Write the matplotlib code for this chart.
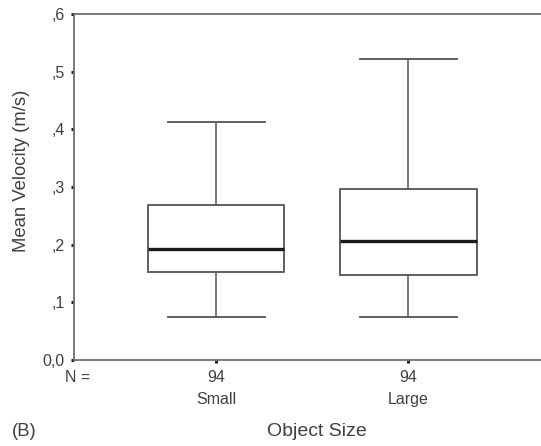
import matplotlib

matplotlib.use("Agg")
import matplotlib.pyplot as plt

plt.rcParams["font.family"] = ["Liberation Sans", "DejaVu Sans"]

groups = ["Small", "Large"]
counts = [94, 94]
whislo = [0.075, 0.075]
q1 = [0.153, 0.147]
med = [0.193, 0.206]
q3 = [0.269, 0.297]
whishi = [0.413, 0.522]

yticks = [0.0, 0.1, 0.2, 0.3, 0.4, 0.5, 0.6]
ytick_labels = ["0,0", ",1", ",2", ",3", ",4", ",5", ",6"]

text_col = "#404040"
line_col = "#606060"

fig = plt.figure(figsize=(5.41, 4.46), dpi=100)
ax = fig.add_axes([74 / 541, 1 - 360 / 446, 1 - 74 / 541, 346 / 446])

stats = []
for i, g in enumerate(groups):
    stats.append(dict(label=g, whislo=whislo[i], q1=q1[i], med=med[i],
                      q3=q3[i], whishi=whishi[i], fliers=[]))

ax.bxp(stats, positions=[1, 2], widths=0.71, showfliers=False,
       boxprops=dict(color=line_col, linewidth=1.4),
       whiskerprops=dict(color=line_col, linewidth=1.2),
       capprops=dict(color=line_col, linewidth=1.4),
       medianprops=dict(color="#1a1a1a", linewidth=2.4),
       capwidths=0.505)

ax.set_xlim(0.26, 2.69)
ax.set_ylim(0, 0.6)
ax.set_yticks(yticks)
ax.set_yticklabels(ytick_labels)
ax.set_xticks([1, 2])
ax.set_xticklabels([f"{n}\n{g}" for n, g in zip(counts, groups)],
                   linespacing=1.6)

for side in ["left", "top", "bottom"]:
    ax.spines[side].set_color("#707070")
    ax.spines[side].set_linewidth(1.3)
ax.spines["right"].set_visible(False)

ax.tick_params(axis="both", direction="out", length=2.5, width=2.2,
               color="#222222", labelsize=11.5, labelcolor=text_col)
ax.tick_params(axis="y", pad=4)
ax.tick_params(axis="x", pad=4.5)

fig.text(65 / 541, 1 - 377 / 446, "N =", fontsize=11.5, color=text_col,
         va="center", ha="left")
fig.text(22 / 541, 1 - 171 / 446, "Mean Velocity (m/s)", fontsize=13.3,
         color=text_col, rotation=90, va="center", ha="center")
fig.text(317 / 541, 1 - 431 / 446, "Object Size", fontsize=14,
         color=text_col, va="center", ha="center")
fig.text(12 / 541, 1 - 431 / 446, "(B)", fontsize=13.3, color=text_col,
         va="center", ha="left")

fig.savefig("out.png", dpi=100)
